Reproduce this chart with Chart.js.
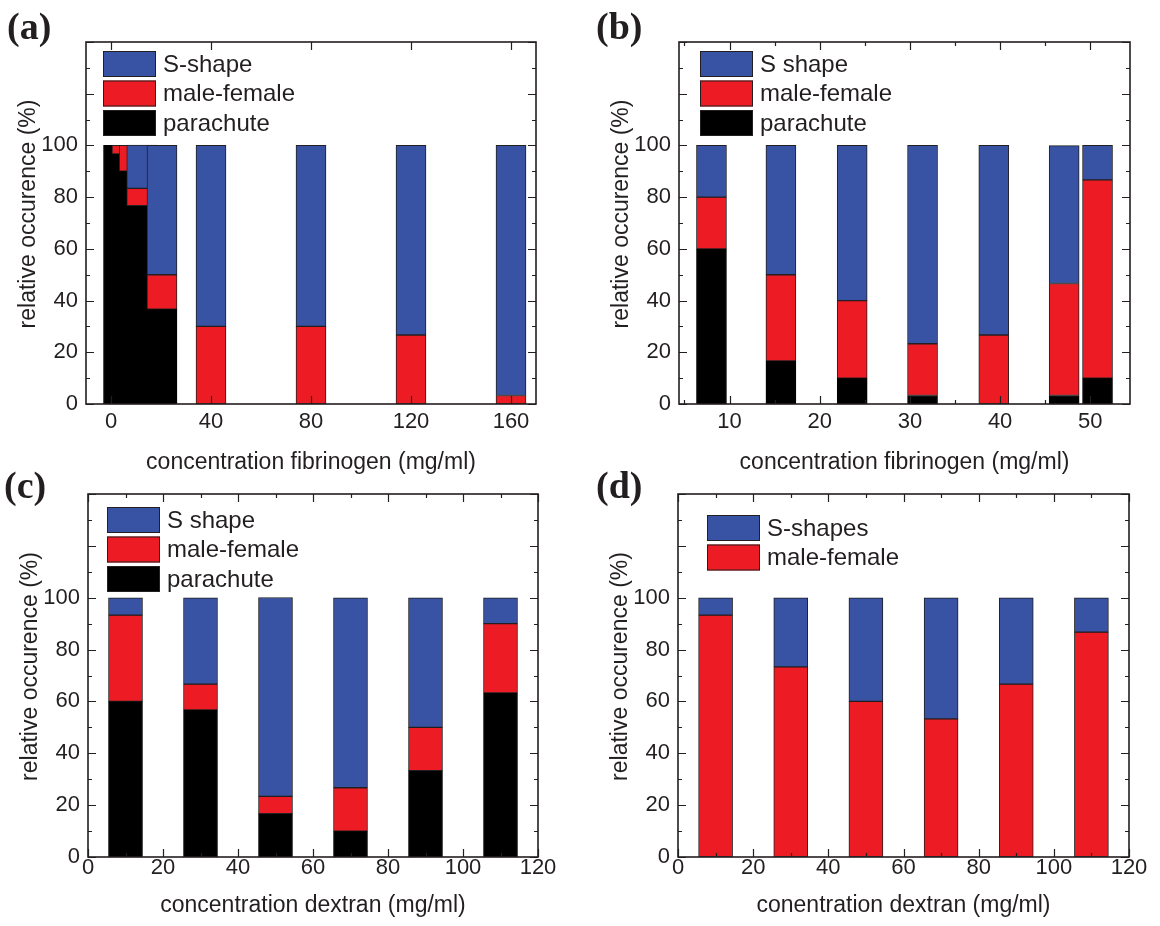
<!DOCTYPE html>
<html>
<head>
<meta charset="utf-8">
<title>Shape occurrence vs concentration</title>
<script src="https://cdn.jsdelivr.net/npm/chart.js@4.4.0/dist/chart.umd.min.js"></script>
<style>
  body { margin: 0; background: #fff; }
  #page { position: relative; width: 1160px; height: 926px; overflow: hidden; }
  .panel { position: absolute; width: 580px; line-height: 0; }
  .letter {
    position: absolute;
    font-family: "Liberation Serif", "Times New Roman", serif;
    font-weight: bold;
    font-size: 38px;
    line-height: 1;
    color: #231f20;
  }
</style>
</head>
<body>
<div id="page">
  <div class="panel" style="left:0;top:0"><canvas id="chartA" width="580" height="480"></canvas></div>
  <div class="panel" style="left:580px;top:0"><canvas id="chartB" width="580" height="480"></canvas></div>
  <div class="panel" style="left:0;top:460px"><canvas id="chartC" width="580" height="466"></canvas></div>
  <div class="panel" style="left:580px;top:460px"><canvas id="chartD" width="580" height="466"></canvas></div>
  <div class="letter" style="left:7px;top:7px">(a)</div>
  <div class="letter" style="left:596px;top:7px">(b)</div>
  <div class="letter" style="left:4px;top:466px">(c)</div>
  <div class="letter" style="left:596px;top:466px">(d)</div>
</div>
<script>
// ---- data (percent of cells per shape) ----
// (a) fibrinogen, wide range
const concA = [3, 6.4, 9.3, 12.3, 20.4, 40, 80, 120, 160];
const paraA = [100, 96.7, 90, 76.7, 36.7, 0, 0, 0, 0];
const maleA = [0, 3.3, 10, 6.7, 13.3, 30, 30, 26.7, 3.3];
const sA = [0, 0, 0, 16.7, 50, 70, 70, 73.3, 96.7];

// (b) fibrinogen, 10-50 mg/ml
const concB = [8, 15.7, 23.6, 31.4, 39.3, 47.1, 50.8];
const paraB = [60, 16.7, 10, 3.3, 0, 3.3, 10];
const maleB = [20, 33.3, 30, 20, 26.7, 43.3, 76.7];
const sB = [20, 50, 60, 76.7, 73.3, 53.3, 13.3];

// (c) dextran
const concC = [10, 30, 50, 70, 90, 110];
const paraC = [60, 56.7, 16.7, 10, 33.3, 63.3];
const maleC = [33.3, 10, 6.7, 16.7, 16.7, 26.7];
const sC = [6.7, 33.3, 76.7, 73.3, 50, 10];

// (d) dextran, two shapes only
const concD = [10, 30, 50, 70, 90, 110];
const maleD = [93.3, 73.3, 60, 53.3, 66.7, 86.7];
const sD = [6.7, 26.7, 40, 46.7, 33.3, 13.3];

// ---- ticks ----
const yTicks = [0, 10, 20, 30, 40, 50, 60, 70, 80, 90, 100, 110, 120, 130, 140];
const yMajor = [0, 20, 40, 60, 80, 100, 120, 140];
const yLabels = [0, 20, 40, 60, 80, 100];
const xTicksA = [0, 40, 80, 120, 160];
const xTicksB = [5, 10, 15, 20, 25, 30, 35, 40, 45, 50];
const xLabelsB = [10, 20, 30, 40, 50];
const xTicksCD = [0, 10, 20, 30, 40, 50, 60, 70, 80, 90, 100, 110, 120];
const xLabelsCD = [0, 20, 40, 60, 80, 100, 120];

const BLUE = "#3953a4";
const RED = "#ed1c24";
const BLACK = "#000000";
const INK = "#231f20";
const FONT = "'Liberation Sans', Arial, sans-serif";

// stack the series into floating [from, to] bars, bottom series first
function floating(conc, seriesList) {
  let base = conc.map(() => 0);
  return seriesList.map((vals) => {
    const out = conc.map((c, i) => {
      const lo = base[i];
      const hi = lo + vals[i];
      return vals[i] > 0 ? { x: c, y: [lo, hi] } : { x: c, y: null };
    });
    base = base.map((b, i) => b + vals[i]);
    return out;
  });
}

// box frame with inward ticks on all four sides, drawn over the bars
const frameTicks = {
  id: "frameTicks",
  afterDatasetsDraw(chart, args, opts) {
    const { ctx, chartArea: a, scales } = chart;
    const x = scales.x, y = scales.y;
    ctx.save();
    ctx.strokeStyle = INK;
    ctx.lineWidth = 1.2;
    ctx.beginPath();
    x.ticks.forEach((t) => {
      const px = Math.round(x.getPixelForValue(t.value)) + 0.5;
      const len = opts.xMajor.includes(t.value) ? 8 : 4;
      ctx.moveTo(px, a.bottom);
      ctx.lineTo(px, a.bottom - len);
      ctx.moveTo(px, a.top);
      ctx.lineTo(px, a.top + len);
    });
    y.ticks.forEach((t) => {
      const py = Math.round(y.getPixelForValue(t.value)) + 0.5;
      const len = yMajor.includes(t.value) ? 8 : 4;
      ctx.moveTo(a.left, py);
      ctx.lineTo(a.left + len, py);
      ctx.moveTo(a.right, py);
      ctx.lineTo(a.right - len, py);
    });
    ctx.stroke();
    ctx.lineWidth = 1.6;
    ctx.strokeRect(a.left, a.top, a.right - a.left, a.bottom - a.top);
    ctx.restore();
  },
};

// y axis title, a little above the middle of the axis
const yTitle = {
  id: "yTitle",
  afterDraw(chart, args, opts) {
    const { ctx, chartArea: a } = chart;
    ctx.save();
    ctx.translate(a.left - 57, (a.top + a.bottom) / 2 - 9);
    ctx.rotate(-Math.PI / 2);
    ctx.font = "23px " + FONT;
    ctx.fillStyle = INK;
    ctx.textAlign = "center";
    ctx.textBaseline = "middle";
    ctx.fillText(opts.text, 0, 0);
    ctx.restore();
  },
};

const boxLegend = {
  id: "boxLegend",
  afterDraw(chart, args, opts) {
    const { ctx, chartArea: a } = chart;
    ctx.save();
    ctx.font = "24px " + FONT;
    ctx.textBaseline = "middle";
    chart.data.datasets.forEach((ds, i) => {
      const bx = a.left + opts.dx;
      const by = a.top + opts.dy + i * 29.5;
      ctx.fillStyle = ds.backgroundColor;
      ctx.fillRect(bx, by, 53, 26);
      ctx.strokeStyle = INK;
      ctx.lineWidth = 1;
      ctx.strokeRect(bx + 0.5, by + 0.5, 52, 25);
      ctx.fillStyle = INK;
      ctx.fillText(ds.label, bx + 60, by + 14);
    });
    ctx.restore();
  },
};

function makeChart(id, p) {
  const bars = floating(p.conc, p.series.map((s) => s.values));
  // top series first so it is drawn last (on top) and listed first in the legend
  const datasets = p.series
    .map((s, k) => ({
      label: s.label,
      data: bars[k],
      backgroundColor: s.color,
      borderColor: s.color === BLACK ? BLACK : INK,
      borderWidth: 1,
      borderSkipped: false,
      grouped: false,
      barThickness: p.barThickness,
    }))
    .reverse();

  return new Chart(document.getElementById(id), {
    type: "bar",
    data: { datasets },
    plugins: [frameTicks, yTitle, boxLegend],
    options: {
      responsive: false,
      animation: false,
      layout: { padding: p.padding },
      scales: {
        x: {
          type: "linear",
          min: p.xMin,
          max: p.xMax,
          offset: false,
          grid: { display: false, drawTicks: false },
          border: { display: false },
          afterBuildTicks: (s) => {
            s.ticks = p.xTicks.map((v) => ({ value: v }));
          },
          afterFit: (s) => {
            s.height = p.xHeight;
          },
          ticks: {
            autoSkip: false,
            maxRotation: 0,
            padding: p.xTickPad,
            color: INK,
            font: { family: FONT, size: 22 },
            callback: (v) => (p.xLabels.includes(v) ? String(v) : ""),
          },
          title: {
            display: true,
            text: p.xTitle,
            color: INK,
            font: { family: FONT, size: 23 },
            padding: { top: 0, bottom: p.xTitlePad },
          },
        },
        y: {
          min: 0,
          max: 140,
          grid: { display: false, drawTicks: false },
          border: { display: false },
          afterBuildTicks: (s) => {
            s.ticks = yTicks.map((v) => ({ value: v }));
          },
          afterFit: (s) => {
            s.width = 80;
          },
          ticks: {
            autoSkip: false,
            padding: 8,
            color: INK,
            font: { family: FONT, size: 22 },
            callback: (v) => (yLabels.includes(v) ? String(v) : ""),
          },
        },
      },
      plugins: {
        legend: { display: false },
        tooltip: { enabled: false },
        frameTicks: { xMajor: p.xLabels },
        yTitle: { text: "relative occurence (%)" },
        boxLegend: p.legend,
      },
    },
  });
}

makeChart("chartA", {
  conc: concA,
  series: [
    { label: "parachute", values: paraA, color: BLACK },
    { label: "male-female", values: maleA, color: RED },
    { label: "S-shape", values: sA, color: BLUE },
  ],
  xMin: -10, xMax: 170, xTicks: xTicksA, xLabels: xTicksA,
  xTitle: "concentration fibrinogen (mg/ml)",
  barThickness: 30,
  xHeight: 76, xTickPad: 5, xTitlePad: 4,
  padding: { left: 6, top: 42, right: 44, bottom: 0 },
  legend: { dx: 17, dy: 9 },
});

makeChart("chartB", {
  conc: concB,
  series: [
    { label: "parachute", values: paraB, color: BLACK },
    { label: "male-female", values: maleB, color: RED },
    { label: "S shape", values: sB, color: BLUE },
  ],
  xMin: 4.4, xMax: 54.4, xTicks: xTicksB, xLabels: xLabelsB,
  xTitle: "concentration fibrinogen (mg/ml)",
  barThickness: 30,
  xHeight: 76, xTickPad: 5, xTitlePad: 4,
  padding: { left: 19, top: 42, right: 30, bottom: 0 },
  legend: { dx: 21, dy: 9 },
});

makeChart("chartC", {
  conc: concC,
  series: [
    { label: "parachute", values: paraC, color: BLACK },
    { label: "male-female", values: maleC, color: RED },
    { label: "S shape", values: sC, color: BLUE },
  ],
  xMin: 0, xMax: 120, xTicks: xTicksCD, xLabels: xLabelsCD,
  xTitle: "concentration dextran (mg/ml)",
  barThickness: 34,
  xHeight: 69, xTickPad: -2, xTitlePad: 7,
  padding: { left: 8, top: 34, right: 42, bottom: 0 },
  legend: { dx: 19, dy: 13 },
});

makeChart("chartD", {
  conc: concD,
  series: [
    { label: "male-female", values: maleD, color: RED },
    { label: "S-shapes", values: sD, color: BLUE },
  ],
  xMin: 0, xMax: 120, xTicks: xTicksCD, xLabels: xLabelsCD,
  xTitle: "conentration dextran (mg/ml)",
  barThickness: 34,
  xHeight: 69, xTickPad: -2, xTitlePad: 7,
  padding: { left: 18, top: 34, right: 31, bottom: 0 },
  legend: { dx: 29, dy: 21 },
});
</script>
</body>
</html>
